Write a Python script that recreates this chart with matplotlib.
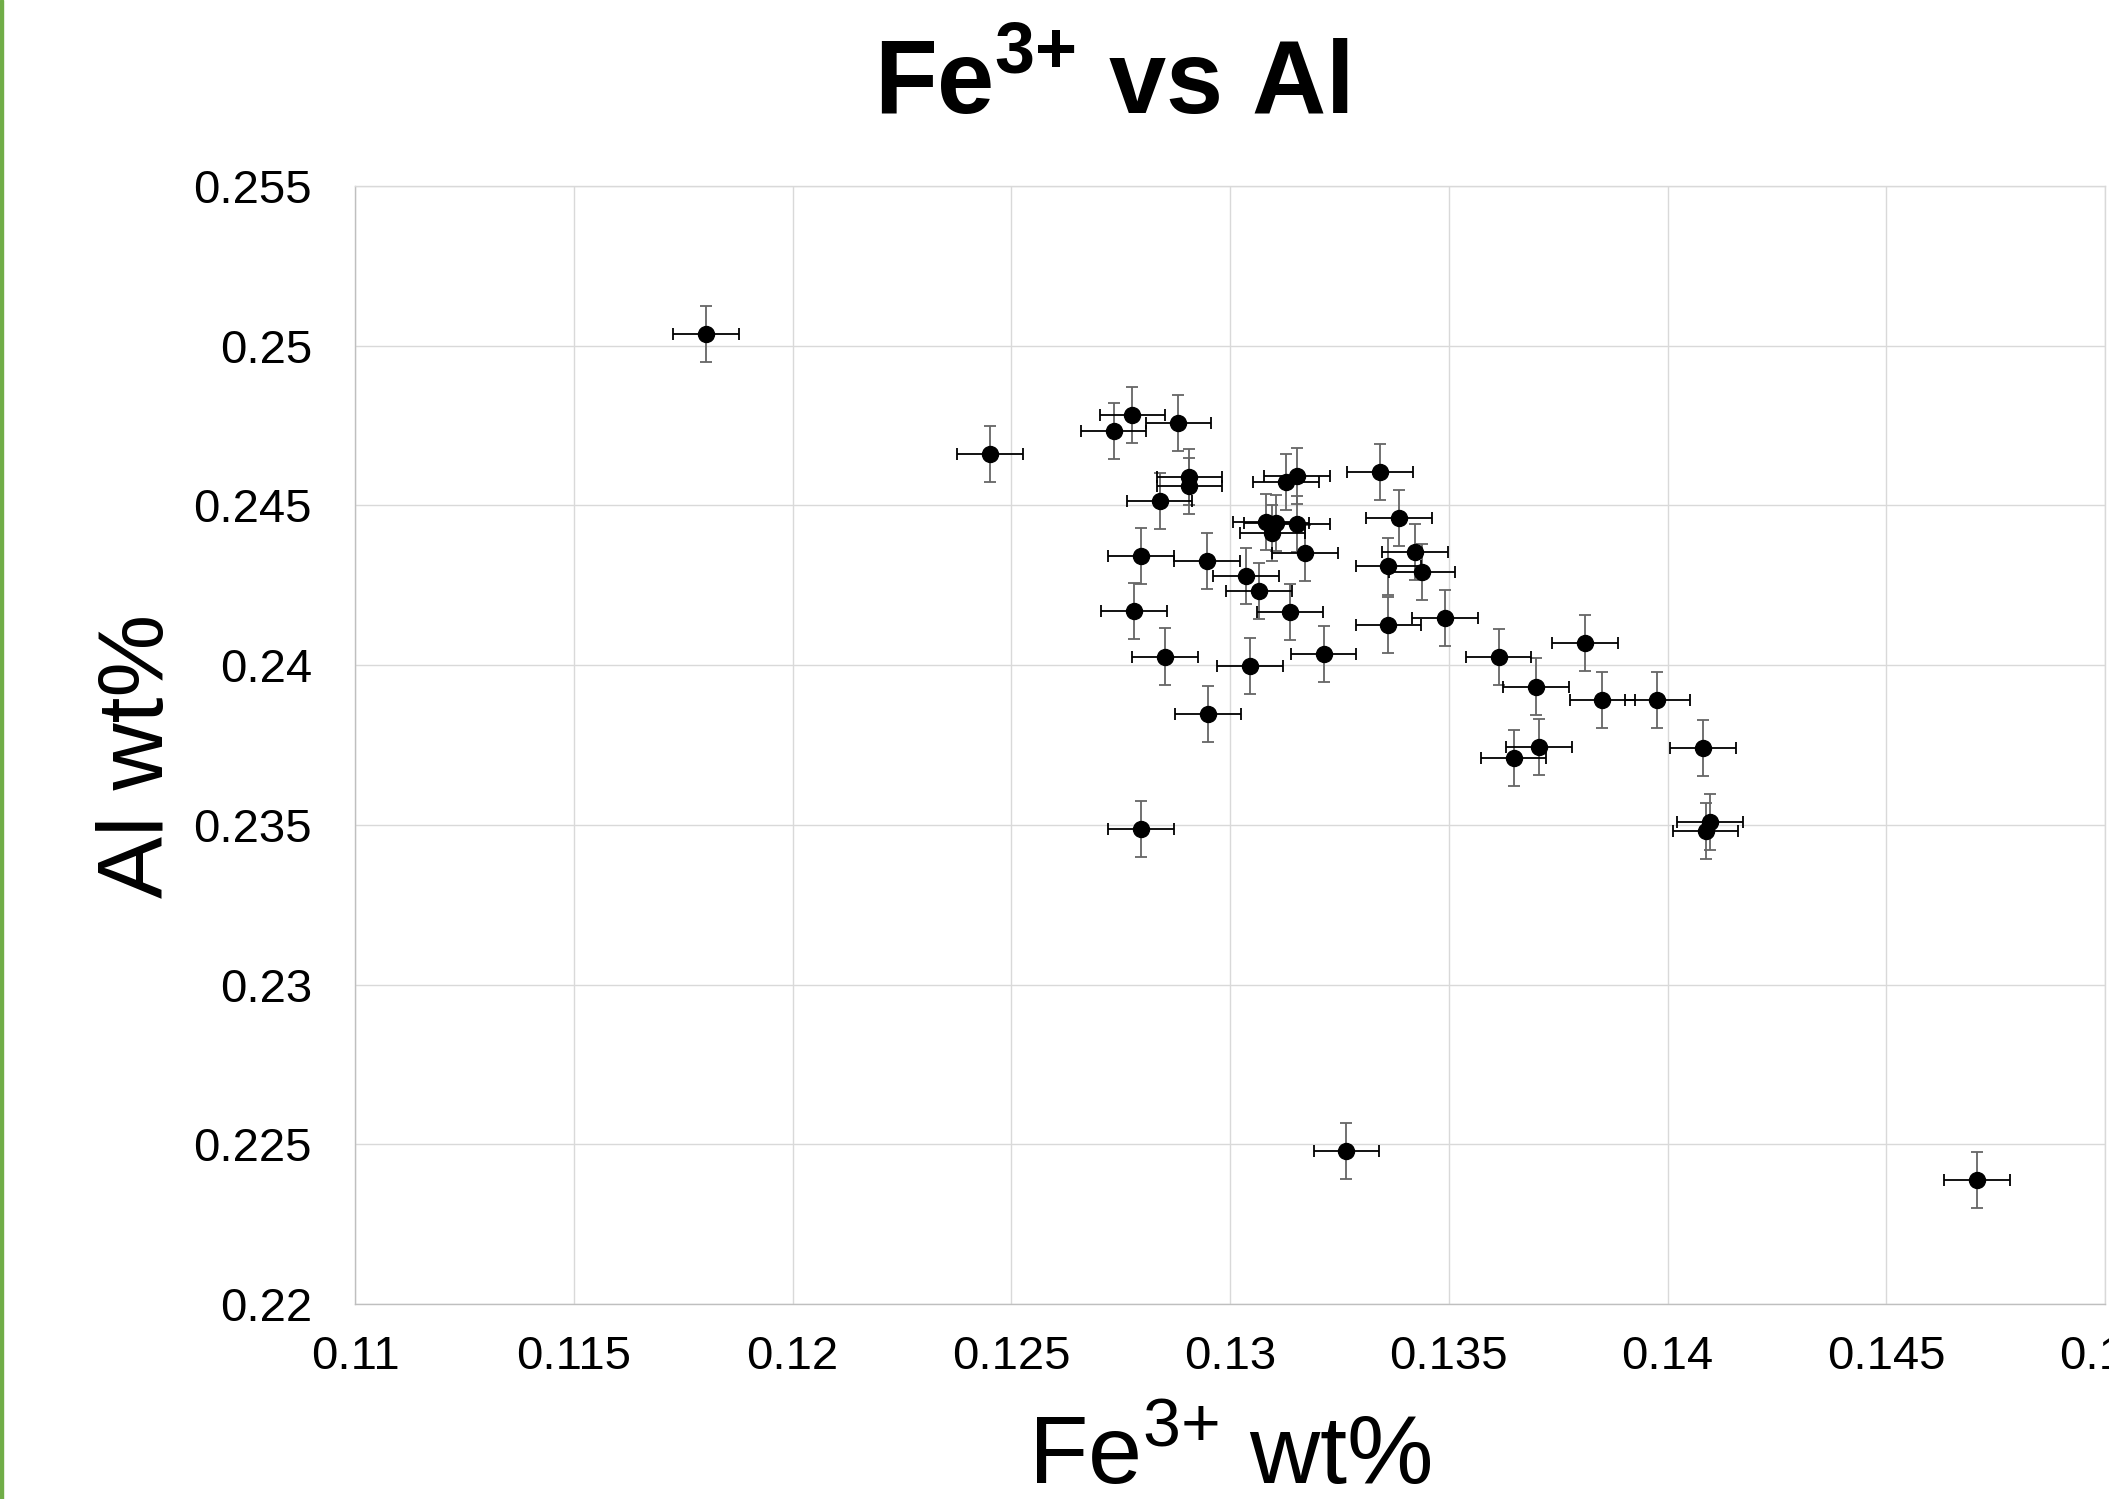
import matplotlib
matplotlib.use("Agg")
import matplotlib.pyplot as plt
from matplotlib.patches import Rectangle

plt.rcParams['font.family'] = ['Liberation Sans', 'DejaVu Sans']
plt.rcParams['mathtext.fontset'] = 'custom'
plt.rcParams['mathtext.rm'] = 'Liberation Sans'
plt.rcParams['mathtext.bf'] = 'Liberation Sans:bold'

# Fe3+ wt% (x) et Al wt% (y)
fe3 = [0.11802, 0.12451, 0.12734, 0.12777, 0.12882, 0.12907, 0.12907, 0.12839,
       0.12796, 0.12780, 0.12851, 0.12947, 0.12950, 0.12796, 0.13036, 0.13066,
       0.13045, 0.13082, 0.13106, 0.13097, 0.13128, 0.13153, 0.13153, 0.13171,
       0.13137, 0.13214, 0.13266, 0.13343, 0.13386, 0.13362, 0.13423, 0.13439,
       0.13362, 0.13491, 0.13614, 0.13700, 0.13811, 0.13851, 0.13977, 0.13648,
       0.13706, 0.14081, 0.14097, 0.14087, 0.14707]
al = [0.25036, 0.24662, 0.24734, 0.24784, 0.24759, 0.24590, 0.24561, 0.24515,
      0.24342, 0.24169, 0.24027, 0.24326, 0.23846, 0.23488, 0.24280, 0.24233,
      0.23997, 0.24448, 0.24444, 0.24414, 0.24574, 0.24591, 0.24442, 0.24352,
      0.24166, 0.24035, 0.22478, 0.24605, 0.24460, 0.24309, 0.24353, 0.24292,
      0.24126, 0.24147, 0.24025, 0.23933, 0.24069, 0.23892, 0.23892, 0.23710,
      0.23743, 0.23741, 0.23509, 0.23480, 0.22388]
fe3_err = 0.00075
al_err = 0.00088

x_ticks = [0.11, 0.115, 0.12, 0.125, 0.13, 0.135, 0.14, 0.145, 0.15]
x_labels = ['0.11', '0.115', '0.12', '0.125', '0.13', '0.135', '0.14', '0.145', '0.15']
y_ticks = [0.22, 0.225, 0.23, 0.235, 0.24, 0.245, 0.25, 0.255]
y_labels = ['0.22', '0.225', '0.23', '0.235', '0.24', '0.245', '0.25', '0.255']

W, H = 2109, 1499
fig = plt.figure(figsize=(W / 100, H / 100), dpi=100)
ax = fig.add_axes([355 / W, 1 - 1304 / H, 1750 / W, 1118 / H])

# barres d'erreur
ax.errorbar(fe3, al, xerr=fe3_err, fmt='none', ecolor='black', elinewidth=1.3,
            capsize=4.3, capthick=1.3, zorder=3)
ax.errorbar(fe3, al, yerr=al_err, fmt='none', ecolor='#666666', elinewidth=1.3,
            capsize=4.1, capthick=1.3, zorder=2)
ax.plot(fe3, al, 'o', color='black', markersize=11.5, zorder=4, linestyle='none')

ax.set_xlim(0.11, 0.15)
ax.set_ylim(0.22, 0.255)
ax.set_xticks(x_ticks)
ax.set_xticklabels(x_labels)
ax.set_yticks(y_ticks)
ax.set_yticklabels(y_labels)
ax.tick_params(axis='both', length=0, labelsize=34)
ax.tick_params(axis='x', pad=22)
ax.tick_params(axis='y', pad=31)
ax.grid(True, color='#d9d9d9', linewidth=1.0)
ax.set_axisbelow(True)
for s in ax.spines.values():
    s.set_color('#d9d9d9')
    s.set_linewidth(1.0)
ax.spines['left'].set_color('#bfbfbf')
ax.spines['bottom'].set_color('#bfbfbf')

ax.set_title(r'Fe$^{\mathbf{3{+}}}$ vs Al', fontsize=74, fontweight='bold',
             x=(1111 - 355) / 1750, y=(1304 - 121) / 1118, va='baseline')
ax.set_xlabel(r'Fe$^{\mathrm{3{+}}}$ wt%', fontsize=70)
ax.xaxis.label.set_va('baseline')
ax.xaxis.set_label_coords(0.5, (1304 - 1484) / 1118)
ax.set_ylabel('Al wt%', fontsize=67)
ax.yaxis.label.set_va('baseline')
ax.yaxis.set_label_coords((163 - 355) / 1750, 0.49)

# liseré vert à gauche
fig.patches.append(Rectangle((0, 0), 2.5 / W, 1, transform=fig.transFigure,
                             color='#70ad47', zorder=10))

plt.savefig("out.png", dpi=100)
